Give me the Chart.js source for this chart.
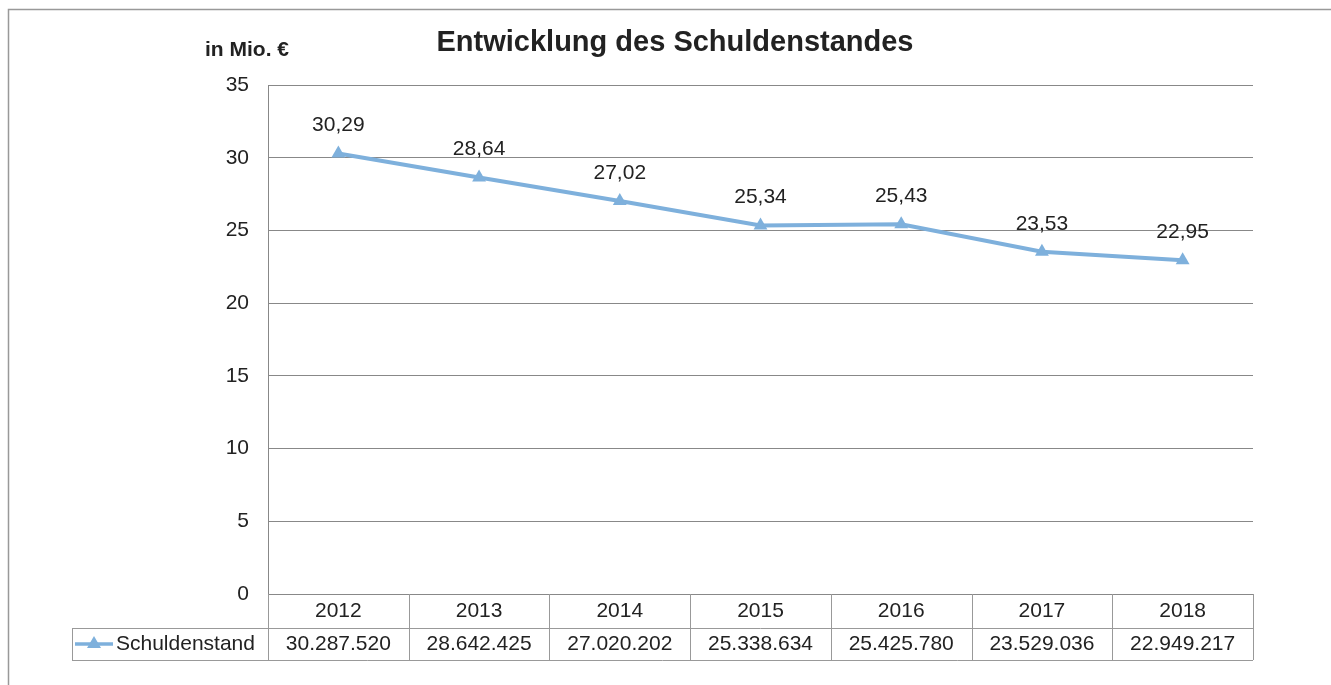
<!DOCTYPE html>
<html>
<head>
<meta charset="utf-8">
<script src="https://cdn.jsdelivr.net/npm/chart.js@4.4.0/dist/chart.umd.min.js"></script>
<style>
  html, body { margin: 0; padding: 0; background: #fff; }
  canvas { display: block; }
</style>
</head>
<body>
<canvas id="chart" width="1331" height="685"></canvas>
<script>
const years = ["2012", "2013", "2014", "2015", "2016", "2017", "2018"];
const debtEuro = [30287520, 28642425, 27020202, 25338634, 25425780, 23529036, 22949217];
const yTicks = [0, 5, 10, 15, 20, 25, 30, 35];
const seriesName = "Schuldenstand";

const lineColor = "#7eb0dc";
const frameColor = "#999";
const font = "'Liberation Sans', Arial, sans-serif";
const textSize = 21;

function fmtThousands(n) {
    return String(n).replace(/\B(?=(\d{3})+(?!\d))/g, ".");
}

function drawTriangle(ctx, x, y, r) {
    ctx.beginPath();
    ctx.moveTo(x, y - r);
    ctx.lineTo(x + r, y + r * 0.7);
    ctx.lineTo(x - r, y + r * 0.7);
    ctx.closePath();
    ctx.fill();
}

// frame, titles, point labels and the data table under the plot
const extras = {
    id: "extras",
    afterDraw(chart) {
        const ctx = chart.ctx;
        const x = chart.scales.x;
        const area = chart.chartArea;
        ctx.save();

        ctx.strokeStyle = frameColor;
        ctx.lineWidth = 1.5;
        ctx.beginPath();
        ctx.moveTo(1331, 9.5);
        ctx.lineTo(8.5, 9.5);
        ctx.lineTo(8.5, 685);
        ctx.stroke();

        ctx.fillStyle = "#222";
        ctx.textAlign = "center";
        ctx.textBaseline = "middle";
        ctx.font = "bold 29px " + font;
        ctx.fillText("Entwicklung des Schuldenstandes", 675, 43);
        ctx.font = "bold 21px " + font;
        ctx.fillText("in Mio. €", 247, 50);

        // value labels above points
        ctx.font = textSize + "px " + font;
        const meta = chart.getDatasetMeta(0);
        meta.data.forEach((pt, i) => {
            const v = chart.data.datasets[0].data[i];
            ctx.fillText(v.toFixed(2).replace(".", ","), pt.x, pt.y - 28);
        });

        // data table
        const colW = (area.right - area.left) / years.length;
        const top = area.bottom, mid = area.bottom + 34, bot = area.bottom + 66;
        const legL = 72;
        ctx.strokeStyle = "#999";
        ctx.lineWidth = 1;
        ctx.beginPath();
        ctx.moveTo(area.left, mid + 0.5); ctx.lineTo(area.right, mid + 0.5);
        ctx.moveTo(legL, mid + 0.5); ctx.lineTo(area.left, mid + 0.5);
        ctx.moveTo(legL, bot + 0.5); ctx.lineTo(area.right, bot + 0.5);
        ctx.moveTo(legL + 0.5, mid); ctx.lineTo(legL + 0.5, bot);
        for (let i = 0; i <= years.length; i++) {
            const cx = Math.round(area.left + i * colW) + 0.5;
            ctx.moveTo(cx, top); ctx.lineTo(cx, bot);
        }
        ctx.stroke();

        ctx.fillStyle = "#222";
        ctx.font = textSize + "px " + font;
        years.forEach((y, i) => {
            const cx = x.getPixelForValue(i);
            ctx.fillText(y, cx, top + 17);
            ctx.fillText(fmtThousands(debtEuro[i]), cx, mid + 16);
        });

        // legend key
        ctx.strokeStyle = lineColor;
        ctx.lineWidth = 3.5;
        ctx.beginPath();
        ctx.moveTo(75, mid + 16);
        ctx.lineTo(113, mid + 16);
        ctx.stroke();
        ctx.fillStyle = lineColor;
        drawTriangle(ctx, 94, mid + 15, 7);
        ctx.fillStyle = "#222";
        ctx.textAlign = "left";
        ctx.fillText(seriesName, 116, mid + 16);

        ctx.restore();
    }
};

new Chart(document.getElementById("chart").getContext("2d"), {
    type: "line",
    data: {
        labels: years,
        datasets: [{
            label: seriesName,
            data: debtEuro.map(v => v / 1e6),
            borderColor: lineColor,
            backgroundColor: lineColor,
            borderWidth: 4,
            pointStyle: "triangle",
            pointRadius: 8,
            pointBorderWidth: 0,
            tension: 0
        }]
    },
    options: {
        responsive: false,
        animation: false,
        layout: { padding: { left: 0, right: 78, top: 85, bottom: 91 } },
        plugins: {
            legend: { display: false },
            tooltip: { enabled: false }
        },
        scales: {
            x: {
                display: false,
                offset: true
            },
            y: {
                min: 0,
                max: 35,
                afterFit: s => { s.width = 268; },
                afterBuildTicks: s => { s.ticks = yTicks.map(v => ({ value: v })); },
                border: { display: true, color: "#888", width: 1 },
                grid: { color: "#888", lineWidth: 1, drawTicks: false },
                ticks: {
                    padding: 19,
                    color: "#222",
                    font: { family: font, size: textSize }
                }
            }
        }
    },
    plugins: [extras]
});
</script>
</body>
</html>
